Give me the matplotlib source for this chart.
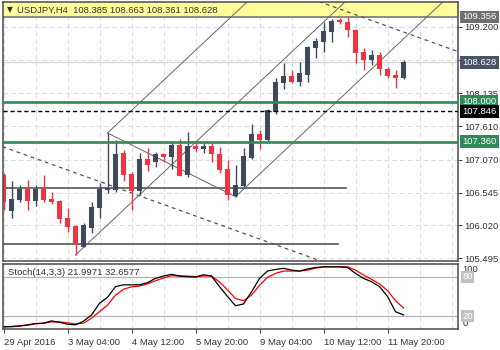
import matplotlib
matplotlib.use("Agg")
import matplotlib.pyplot as plt

plt.rcParams['font.family'] = ['Liberation Sans', 'DejaVu Sans']

header = "USDJPY,H4  108.385 108.663 108.361 108.628"
stoch_title = "Stoch(14,3,3) 21.9971 32.6577"

# H4 bars, 29 Apr 2016 20:00 .. 12 May 04:00
opens = [106.827, 106.251, 106.427, 106.603, 106.416, 106.603, 106.443, 106.411, 106.134, 106.011,
         105.680, 105.974, 106.294, 106.587, 106.587, 107.184, 106.843, 106.571, 107.078, 107.030,
         107.163, 107.120, 107.307, 106.827, 107.291, 107.243, 107.291, 107.163, 106.923, 106.491,
         106.651, 107.094, 107.483, 107.387, 107.840, 108.304, 108.416, 108.320, 108.427, 108.864,
         108.950, 109.120, 109.307, 109.280, 109.147, 108.790, 108.667, 108.747, 108.523, 108.427,
         108.385]
highs = [106.854, 106.731, 106.667, 106.747, 106.667, 106.827, 106.560, 106.427, 106.294, 106.027,
         106.064, 106.400, 106.694, 107.499, 107.387, 107.227, 106.880, 107.184, 107.254, 107.200,
         107.184, 107.360, 107.398, 107.510, 107.334, 107.334, 107.344, 107.270, 107.067, 106.987,
         107.254, 107.643, 107.547, 107.878, 108.374, 108.614, 108.507, 108.640, 108.896, 109.014,
         109.270, 109.330, 109.344, 109.356, 109.160, 108.864, 108.827, 108.800, 108.550, 108.507,
         108.663]
lows = [106.267, 106.144, 106.400, 106.267, 106.331, 106.400, 106.363, 106.054, 105.920, 105.547,
        105.667, 105.894, 106.134, 106.539, 106.560, 106.736, 106.267, 106.507, 106.891, 106.950,
        107.040, 106.923, 106.811, 106.800, 107.200, 107.174, 107.040, 106.864, 106.427, 106.480,
        106.640, 107.078, 107.238, 107.376, 107.803, 108.203, 108.304, 108.251, 108.320, 108.694,
        108.800, 108.960, 109.238, 109.040, 108.614, 108.507, 108.587, 108.427, 108.374, 108.224,
        108.361]
closes = [106.400, 106.443, 106.603, 106.416, 106.603, 106.427, 106.390, 106.123, 106.000, 105.723,
          106.027, 106.310, 106.598, 106.611, 107.163, 106.827, 106.571, 107.078, 106.979, 107.163,
          107.120, 107.307, 106.816, 107.291, 107.243, 107.291, 107.158, 106.907, 106.507, 106.667,
          107.131, 107.483, 107.387, 107.867, 108.310, 108.416, 108.320, 108.464, 108.880, 108.976,
          109.136, 109.296, 109.270, 109.147, 108.774, 108.667, 108.747, 108.518, 108.416, 108.384,
          108.628]

stoch_k = [4, 4.5, 5.5, 7, 9, 9.5, 13, 11, 8, 7,
           12.6, 22, 39.7, 48.8, 65, 67.7, 67.7, 67.7, 71, 77.5,
           81, 83.6, 81, 80, 79.5, 83, 81, 65, 50, 36,
           38.7, 57, 77.5, 88.6, 91, 92.7, 90, 88.6, 91.6, 94,
           95, 95, 95, 94, 85, 77.5, 72.4, 65, 50, 27,
           21.9971]
stoch_d = [4, 4.2, 5, 6.5, 8.5, 9.5, 11.5, 11.5, 10, 8.5,
           9.5, 17, 27, 37, 52, 61, 64.6, 66, 69, 74,
           78, 81.6, 81, 81, 80, 81, 81, 72, 60, 47,
           43.6, 52, 67, 79, 85, 88.6, 88.6, 88.6, 90, 93,
           95, 95, 95, 95, 90, 82.6, 76, 69, 59, 43.6,
           32.6577]

date_bars = [0, 8, 16, 24, 32, 40, 48]
date_labels = ["29 Apr 2016", "3 May 04:00", "4 May 12:00", "5 May 20:00",
               "9 May 04:00", "10 May 12:00", "11 May 20:00"]

price_ticks = [109.200, 108.665, 108.135, 107.610, 107.070, 106.545, 106.020, 105.495]
price_tick_labels = ["109.200", "", "108.135", "107.610", "107.070", "106.545", "106.020", "105.495"]

top_level = 109.356
green_levels = [108.000, 107.360]
dashed_level = 107.846
bid = 108.628
flat_levels = [106.620, 105.723]
flat_end_bars = [42.8, 41.8]

# andrews pitchfork anchors (bar, price)
fork_bars = [9, 13, 29]
fork_prices = [105.547, 107.499, 106.480]

# descending dashed channel
chan_start = 107.275
chan_slope = -0.046
chan_width = 4.14

bull = '#3e4a5b'
bear = '#f5323e'
green = '#2e8b57'
line_gray = '#555555'

fig = plt.figure(figsize=(5, 3.5), dpi=100)
ax = fig.add_axes([0.005, 0.2543, 0.91, 0.7386])
ax2 = fig.add_axes([0.005, 0.0586, 0.91, 0.1885], sharex=ax)

x0, x1 = -0.125, 56.75
ymin, ymax = 105.451, 109.587
ax.set_xlim(x0, x1)
ax.set_ylim(ymin, ymax)

# grid
for b in range(0, 57, 4):
    ax.axvline(b, color='#dcdcdc', lw=0.8, ls=(0, (4, 3)), zorder=0)
    ax2.axvline(b, color='#dcdcdc', lw=0.8, ls=(0, (4, 3)), zorder=0)
for p in price_ticks:
    ax.axhline(p, color='#dcdcdc', lw=0.8, ls=(0, (4, 3)), zorder=0)

# yellow band above high
ax.axhspan(top_level, ymax, color='#ffff99', zorder=0.5, lw=0)
ax.axhline(top_level, color='#6b6b6b', lw=1.1, zorder=1)

ax.axhline(bid, color='#d6d6d6', lw=0.9, zorder=1)
for g in green_levels:
    ax.axhline(g, color=green, lw=1.9, zorder=3)
ax.axhline(dashed_level, color='black', lw=1.0, ls=(0, (3, 2)), zorder=3)

for lvl, end in zip(flat_levels, flat_end_bars):
    ax.plot([x0, end], [lvl, lvl], color=line_gray, lw=1.2, zorder=1)

# dashed descending channel
cx = [x0, x1]
ax.plot(cx, [chan_start + chan_slope * x for x in cx], color=line_gray, lw=0.9,
        ls=(0, (3, 3)), zorder=1)
ax.plot(cx, [chan_start + chan_width + chan_slope * x for x in cx], color=line_gray, lw=0.9,
        ls=(0, (3, 3)), zorder=1)

# pitchfork
(b1, b2, b3), (p1, p2, p3) = fork_bars, fork_prices
mb, mp = (b2 + b3) / 2, (p2 + p3) / 2
slope = (mp - p1) / (mb - b1)
for bb, pp in [(b1, p1), (b2, p2), (b3, p3)]:
    ax.plot([bb, x1], [pp, pp + slope * (x1 - bb)], color='#666666', lw=0.7, zorder=1)
ax.plot([b2, b3], [p2, p3], color='#666666', lw=0.7, zorder=1)

# candles
bars = range(len(opens))
for i in bars:
    o, h, l, c = opens[i], highs[i], lows[i], closes[i]
    col = bull if c >= o else bear
    ax.vlines(i, l, h, color=col, lw=1.0, zorder=2)
    lo = min(o, c)
    hgt = max(abs(c - o), 0.014)
    ax.bar(i, hgt, bottom=lo, width=0.62, color=col, lw=0, zorder=2)

# axes styling
for a in (ax, ax2):
    for s in a.spines.values():
        s.set_color('#4a4a4a')
        s.set_linewidth(1.1)

ax.yaxis.tick_right()
ax.set_yticks(price_ticks)
ax.set_yticklabels(price_tick_labels)
ax.tick_params(axis='y', direction='out', length=3, pad=2, labelsize=6.8,
               colors='#4a4a4a', labelcolor='#333333')
ax.tick_params(axis='x', bottom=False, labelbottom=False)

def price_box(a, val, fc, tc='white'):
    a.annotate(f"{val:.3f}", xy=(1, val), xycoords=('axes fraction', 'data'),
               xytext=(3.5, 0), textcoords='offset points', ha='left', va='center',
               fontsize=6.8, color=tc, annotation_clip=False, zorder=10,
               bbox=dict(boxstyle='square,pad=0.2', fc=fc, ec='none'))

price_box(ax, top_level, '#707070')
price_box(ax, bid, '#465466')
price_box(ax, green_levels[0], green)
price_box(ax, dashed_level, 'black')
price_box(ax, green_levels[1], green)

fig.text(10 / 500, 1 - 10 / 350, "\u25bc", fontsize=5.5, color='#333333',
         ha='center', va='center', family=['DejaVu Sans'])
fig.text(17 / 500, 1 - 10 / 350, header, fontsize=6.8, color='#333333',
         ha='left', va='center')

# stochastic
ax2.set_ylim(0, 100)
ax2.axhline(80, color='#b4b4b4', lw=0.9)
ax2.axhline(20, color='#b4b4b4', lw=0.9)
ax2.plot(list(bars), stoch_d, color='#ff0000', lw=0.9)
ax2.plot(list(bars), stoch_k, color='black', lw=0.9)
ax2.text(0.012, 0.87, stoch_title, transform=ax2.transAxes, fontsize=6.8,
         color='#333333', ha='left', va='center')
ax2.set_yticks([])
ax2.set_xticks(date_bars)
ax2.set_xticklabels(date_labels, ha='left')
ax2.tick_params(axis='x', direction='out', length=3, pad=3, labelsize=6.8,
                colors='#4a4a4a', labelcolor='#333333')

ax2.annotate("100", xy=(1, 1), xycoords='axes fraction', xytext=(3.5, -4.5),
             textcoords='offset points', ha='left', va='center', fontsize=6.8,
             color='#333333', annotation_clip=False)
ax2.annotate("0", xy=(1, 0), xycoords='axes fraction', xytext=(3.5, 4),
             textcoords='offset points', ha='left', va='center', fontsize=6.8,
             color='#333333', annotation_clip=False)
for v in (80, 20):
    ax2.annotate(str(v), xy=(1, v), xycoords=('axes fraction', 'data'),
                 xytext=(3.5, 0), textcoords='offset points', ha='left', va='center',
                 fontsize=6.8, color='white', annotation_clip=False, zorder=10,
                 bbox=dict(boxstyle='square,pad=0.15', fc='#c0c0c0', ec='none'))

fig.savefig("out.png", dpi=100)
